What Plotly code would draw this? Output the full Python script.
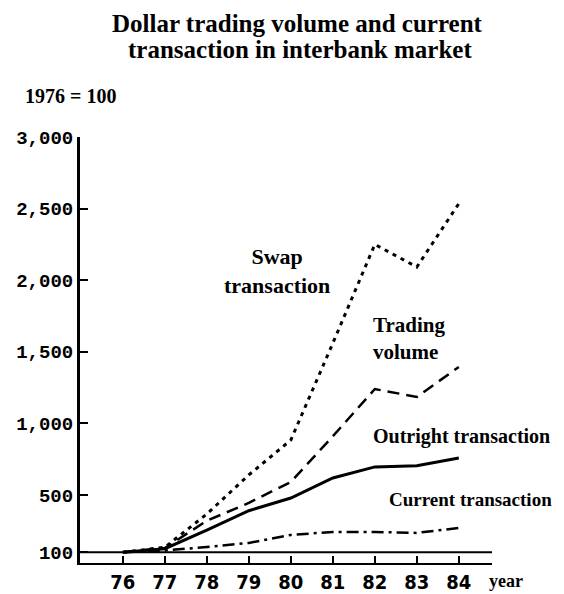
import plotly.graph_objects as go

years = [76, 77, 78, 79, 80, 81, 82, 83, 84]
year_labels = ["76", "77", "78", "79", "80", "81", "82", "83", "84"]
swap = [100, 135, 367, 640, 884, 1560, 2250, 2092, 2535]
trading = [100, 130, 320, 445, 591, 910, 1240, 1185, 1394]
outright = [100, 125, 255, 390, 479, 619, 696, 705, 759]
current = [100, 112, 137, 165, 221, 242, 242, 235, 270]
ytick_vals = [100, 500, 1000, 1500, 2000, 2500, 3000]
ytick_text = ["100", "500", "1,000", "1,500", "2,000", "2,500", "3,000"]

SERIF = "Liberation Serif, Times New Roman, serif"
MONO = "Liberation Mono, Courier New, monospace"
NARROW = "Liberation Sans Narrow, DejaVu Sans Condensed, Arial Narrow, sans-serif"

fig = go.Figure()
fig.add_trace(go.Scatter(x=years, y=swap, mode="lines",
                         line=dict(color="black", width=3, dash="4px,5px")))
fig.add_trace(go.Scatter(x=years, y=trading, mode="lines",
                         line=dict(color="black", width=2.5, dash="12px,7px")))
fig.add_trace(go.Scatter(x=years, y=outright, mode="lines",
                         line=dict(color="black", width=3)))
fig.add_trace(go.Scatter(x=years, y=current, mode="lines",
                         line=dict(color="black", width=2.5, dash="12px,5px,3px,5px")))

fig.add_shape(type="line", xref="paper", x0=0, x1=1, yref="y", y0=100, y1=100,
              line=dict(color="black", width=2))

def ann(text, x, y, size, xanchor="left", align="left", xref="x", yref="y"):
    fig.add_annotation(x=x, y=y, xref=xref, yref=yref, text=text, showarrow=False,
                       font=dict(color="black", family=SERIF, size=size, weight="bold"),
                       align=align, xanchor=xanchor, yanchor="middle")

# title (two lines)
ann("Dollar trading volume and current", 0.529, 1.267, 25, "center", "center", "paper", "paper")
ann("transaction in interbank market", 0.534, 1.205, 25, "center", "center", "paper", "paper")
ann("1976 = 100", -0.138, 1.096, 20, xref="paper", yref="paper")

ann("Swap<br>transaction", 79.67, 2064, 22, "center", "center")
ann("Trading<br>volume", 81.9, 1596, 21)
ann("Outright transaction", 81.9, 905, 20)
ann("Current transaction", 82.28, 465, 19)
ann("year", 0.988, -0.042, 18, xref="paper", yref="paper")

# page body adds an 8px offset, so the figure is drawn 8px smaller
fig.update_layout(
    width=556, height=586,
    margin=dict(l=72, r=72, t=129, b=31),
    paper_bgcolor="white", plot_bgcolor="white",
    showlegend=False,
    xaxis=dict(range=[74.98, 84.79], tickvals=years, ticktext=year_labels,
               showline=True, linecolor="black", linewidth=2, automargin=False,
               ticks="inside", ticklen=7, tickwidth=2, tickcolor="black",
               showgrid=False, zeroline=False,
               tickfont=dict(color="black", family=NARROW, size=20, weight="bold")),
    yaxis=dict(range=[25, 3000], tickvals=ytick_vals, ticktext=ytick_text,
               showline=True, linecolor="black", linewidth=3, automargin=False,
               ticks="inside", ticklen=8, tickwidth=2, tickcolor="black",
               showgrid=False, zeroline=False,
               tickfont=dict(color="black", family=MONO, size=19, weight="bold")),
)

fig.write_html("out.html")
